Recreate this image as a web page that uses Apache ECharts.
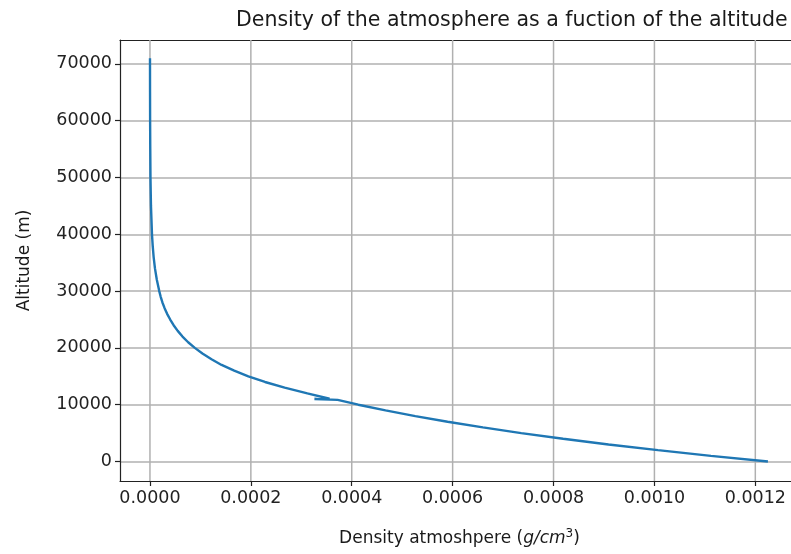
<!DOCTYPE html>
<html>
<head>
<meta charset="utf-8">
<script src="https://cdn.jsdelivr.net/npm/echarts@6/dist/echarts.min.js"></script>
<style>
html,body{margin:0;padding:0;background:#fff;}
#chart{width:791px;height:554px;}
</style>
</head>
<body>
<div id="chart"></div>
<script>
// Altitude (m) and density (g/cm^3)
var altitude = [0,1000,2000,3000,4000,5000,6000,7000,8000,9000,10000,10850,11000,10980,11050,
  12000,13000,14000,15000,16000,17000,18000,19000,20000,21000,22000,23000,24000,25000,26000,
  27000,28000,29000,30000,32000,34000,36000,38000,40000,45000,50000,55000,60000,65000,70000,71000];
var density = [0.001225,0.001112,0.001007,0.000909,0.000819,0.000736,0.000660,0.000590,0.000526,0.000467,0.000413,0.000372,0.000326,0.000334,0.000356,
  0.000312,0.000267,0.000228,0.000195,0.000167,0.000142,0.000122,0.000104,0.0000889,0.0000757,0.0000645,0.0000550,0.0000469,0.0000401,0.0000340,
  0.0000290,0.0000247,0.0000213,0.0000184,0.0000136,0.0000099,0.0000073,0.0000054,0.0000040,0.0000020,0.0000010,0.0000006,0.0000003,0.00000016,0.00000008,0.00000006];
var xTicks = [0,0.0002,0.0004,0.0006,0.0008,0.0010,0.0012];
var yTicks = [0,10000,20000,30000,40000,50000,60000,70000];

var points = altitude.map(function(a,i){return [density[i], a];});
var font = 'DejaVu Sans';
var xMin = -0.0000594, xMax = 0.0012866;
var yMin = -3433, yMax = 74210;
var gridData = [];
xTicks.forEach(function(v){ gridData.push([v, yMin]); gridData.push([v, yMax]); gridData.push([v, '-']); });

var chart = echarts.init(document.getElementById('chart'), null, {renderer:'canvas'});
chart.setOption({
  animation:false,
  backgroundColor:'#fff',
  title:{
    text:'Density of the atmosphere as a fuction of the altitude',
    left:231, top:5,
    textStyle:{fontFamily:font,fontSize:20.5,fontWeight:'normal',color:'#1a1a1a'}
  },
  grid:{left:120,top:40,right:-8,bottom:73,outerBoundsMode:'none',containLabel:false,show:false},
  xAxis:[{
    type:'value', min:xMin, max:xMax,
    name:'{n|Density atmoshpere (}{i|g/cm}{s|3}{n|)}',
    nameLocation:'middle', nameGap:47,
    nameTextStyle:{rich:{
      n:{fontFamily:font,fontSize:17,color:'#1a1a1a'},
      i:{fontFamily:font,fontSize:17,fontStyle:'italic',color:'#1a1a1a'},
      s:{fontFamily:font,fontSize:12,color:'#1a1a1a',padding:[0,0,10,0]}
    }},
    axisLine:{show:true,onZero:false,lineStyle:{color:'#222',width:1.2}},
    axisTick:{show:true,length:5,customValues:xTicks,lineStyle:{color:'#222',width:1.2}},
    axisLabel:{customValues:xTicks,fontFamily:font,fontSize:17.5,color:'#222',margin:8,
      formatter:function(v){return v.toFixed(4);}},
    splitLine:{show:false}
  },{
    type:'value', position:'top', min:xMin, max:xMax,
    axisLine:{show:true,onZero:false,lineStyle:{color:'#222',width:1.2}},
    axisTick:{show:false}, axisLabel:{show:false}, splitLine:{show:false}
  }],
  yAxis:{
    type:'value', min:yMin, max:yMax,
    name:'Altitude (m)', nameLocation:'middle', nameGap:87, nameRotate:90,
    nameTextStyle:{fontFamily:font,fontSize:17,color:'#1a1a1a'},
    axisLine:{show:true,onZero:false,lineStyle:{color:'#222',width:1.2}},
    axisTick:{show:true,length:5,customValues:yTicks,lineStyle:{color:'#222',width:1.2}},
    axisLabel:{customValues:yTicks,fontFamily:font,fontSize:17.5,color:'#222',margin:8,
      formatter:function(v){return String(v);}},
    splitLine:{show:true,lineStyle:{color:'#b0b0b0',width:1.5}}
  },
  series:[{
    type:'line', xAxisIndex:0, data:gridData, showSymbol:false, silent:true, z:1,
    connectNulls:false, lineStyle:{color:'#b0b0b0',width:1.5}
  },{
    type:'line', xAxisIndex:0, data:points, showSymbol:false, smooth:false,
    lineStyle:{color:'#1f77b4',width:2.4}, clip:true, z:3
  }]
});
</script>
</body>
</html>
